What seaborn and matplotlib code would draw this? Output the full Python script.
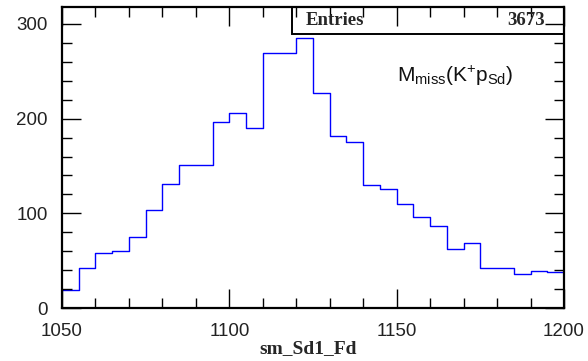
import numpy as np
import pandas as pd
import matplotlib
matplotlib.use("Agg")
import matplotlib.pyplot as plt
from matplotlib.patches import Rectangle
from matplotlib.ticker import MultipleLocator
import seaborn as sns

# Missing-mass histogram, 5 MeV bins from 1050 to 1200
bin_edges = [1050 + 5 * i for i in range(31)]
counts = [19, 43, 58, 60, 75, 104, 131, 151, 151, 196,
          206, 190, 269, 269, 285, 227, 182, 175, 130, 126,
          110, 96, 87, 62, 69, 42, 42, 36, 39, 38]
entries = 3673
x_title = "sm_Sd1_Fd"

centers = [(a + b) / 2 for a, b in zip(bin_edges[:-1], bin_edges[1:])]
df = pd.DataFrame({"mass": centers, "n": counts})

sns.set_theme(style="white")
plt.rcParams["font.family"] = ["Liberation Sans", "DejaVu Sans"]
plt.rcParams["mathtext.default"] = "regular"

fig = plt.figure(figsize=(5.88, 3.61), dpi=100)
ax = fig.add_axes([62 / 588, 1 - 308.3 / 361, 502 / 588, 301 / 361])
ax.set_axisbelow(False)

sns.histplot(data=df, x="mass", weights="n", bins=bin_edges,
             element="step", fill=False, color="#0000ff", linewidth=1.0,
             ax=ax)

ax.set_xlim(1050, 1200)
ax.set_ylim(0, 317.3)
ax.set_ylabel("")

for s in ax.spines.values():
    s.set_color("black")
    s.set_linewidth(1.6)

ax.xaxis.set_major_locator(MultipleLocator(50))
ax.xaxis.set_minor_locator(MultipleLocator(10))
ax.yaxis.set_major_locator(MultipleLocator(100))
ax.yaxis.set_minor_locator(MultipleLocator(20))
ax.tick_params(which="both", direction="in", top=True, right=True,
               bottom=True, left=True,
               color="black", width=1.0, labelsize=13.5, labelcolor="#222222")
ax.tick_params(which="major", length=14, pad=10.3)
ax.tick_params(which="minor", length=7)

serif = ["Liberation Serif", "DejaVu Serif"]
ax.set_xlabel(x_title, family=serif, fontweight="bold", fontsize=14,
              va="center")
ax.xaxis.set_label_coords((308 - 62) / 502, (308.3 - 349) / 301)

# Statistics box in the upper right corner
x0 = (292 - 62) / 502
y0 = (308.3 - 34.3) / 301
ax.add_patch(Rectangle((x0, y0), 1 - x0, 1 - y0, transform=ax.transAxes,
                       facecolor="white", edgecolor="black", linewidth=1.4,
                       zorder=1, clip_on=False))
yc = (308.3 - 20.5) / 301
ax.text((306 - 62) / 502, yc, "Entries", transform=ax.transAxes,
        family=serif, fontweight="bold", fontsize=13.5, ha="left", va="center")
ax.text((545 - 62) / 502, yc, f"{entries}", transform=ax.transAxes,
        family=serif, fontweight="bold", fontsize=13.5, ha="right", va="center")

ax.text((397 - 62) / 502, (308.3 - 82) / 301,
        r"$M_{miss}(K^{+}p_{Sd})$", transform=ax.transAxes,
        fontsize=15, ha="left", va="baseline", color="#111111")

fig.savefig("out.png", dpi=100)
